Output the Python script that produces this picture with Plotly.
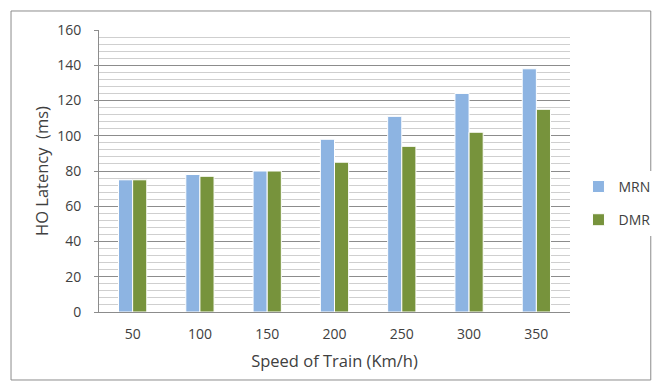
import plotly.graph_objects as go

speeds = ["50", "100", "150", "200", "250", "300", "350"]
mrn = [75, 78, 80, 98, 111, 124, 138]
dmr = [75, 77, 80, 85, 94, 102, 115]
y_ticks = [0, 20, 40, 60, 80, 100, 120, 140, 160]

FONT = "Open Sans"
TXT = "#404040"

fig = go.Figure()
fig.add_trace(go.Bar(name="MRN", x=speeds, y=mrn, legendgroup="a",
                     marker=dict(color="#8DB4E2", line=dict(color="#ffffff", width=1))))
fig.add_trace(go.Bar(name="DMR", x=speeds, y=dmr, legendgroup="b",
                     marker=dict(color="#77933C", line=dict(color="#ffffff", width=1))))

# page has an 8px body margin; figure sized/offset to compensate and avoid scrollbars
fig.update_layout(
    width=644, height=373,
    margin=dict(l=91, r=82, t=22, b=69, autoexpand=False),
    paper_bgcolor="white", plot_bgcolor="white",
    barmode="group", bargap=0.58, bargroupgap=0.0,
    font=dict(family=FONT, size=14, color=TXT),
    showlegend=True,
    legend=dict(x=1.018, y=0.385, xanchor="left", yanchor="middle",
                font=dict(size=14, color=TXT), tracegroupgap=12,
                traceorder="grouped", itemwidth=30),
    xaxis=dict(
        showline=True, linecolor="#8c8c8c", linewidth=1,
        ticks="", showgrid=False, automargin=False,
        tickfont=dict(size=14, color=TXT),
        ticklabelstandoff=9,
        title=dict(text="Speed of Train (Km/h)", font=dict(size=16.5, color=TXT), standoff=13),
    ),
    yaxis=dict(
        range=[0, 160], tickvals=y_ticks, automargin=False,
        showline=True, linecolor="#8c8c8c", linewidth=1,
        ticks="outside", ticklen=4, tickcolor="#8c8c8c",
        ticklabelstandoff=10,
        showgrid=True, gridcolor="#8c8c8c", gridwidth=1,
        minor=dict(dtick=4, showgrid=True, gridcolor="#cfcfcf", gridwidth=1),
        zeroline=False,
        tickfont=dict(size=14, color=TXT),
        title=dict(text="HO Latency\u00a0 (ms)", font=dict(size=16.5, color=TXT), standoff=4),
    ),
)

fig.add_shape(type="rect", xref="paper", yref="paper",
              x0=-0.1868, x1=1.1715, y0=-0.2411, y1=1.0674,
              line=dict(color="#8c8c8c", width=1), fillcolor="rgba(0,0,0,0)", layer="below")

fig.write_html("out.html")
